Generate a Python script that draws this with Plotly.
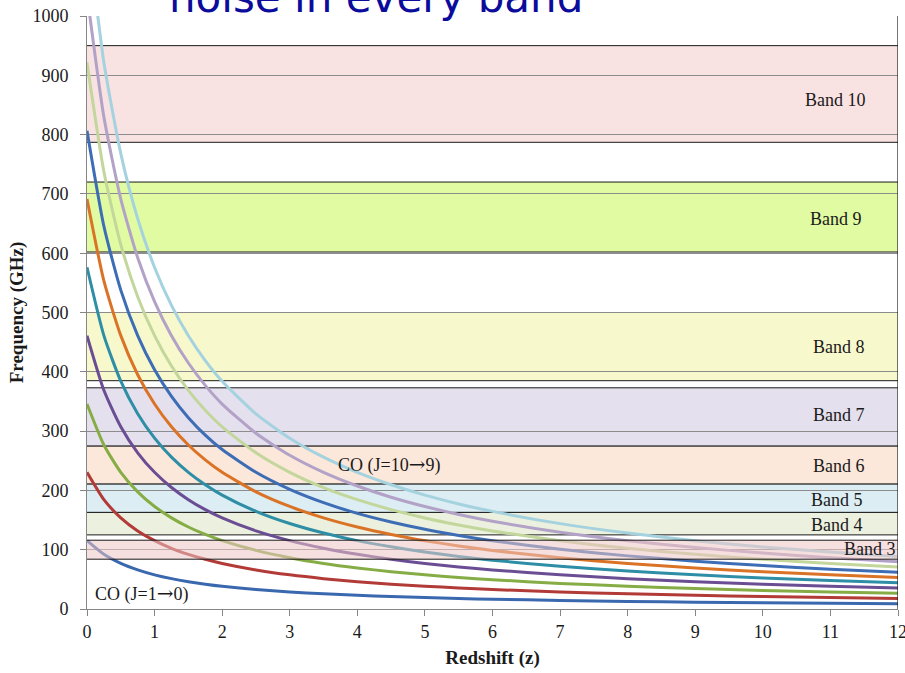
import plotly.graph_objects as go

# Redshift grid (z) and CO line frequencies (GHz)
z = [0, 0.25, 0.5, 0.75, 1, 1.25, 1.5, 1.75, 2, 2.5, 3, 3.5, 4, 4.5, 5, 5.5, 6, 7, 8, 9, 10, 11, 12]

co_1_0 = [115.3, 92.2, 76.9, 65.9, 57.6, 51.2, 46.1, 41.9, 38.4, 32.9, 28.8, 25.6, 23.1, 21.0, 19.2, 17.7, 16.5, 14.4, 12.8, 11.5, 10.5, 9.6, 8.9]
co_2_1 = [230.5, 184.4, 153.7, 131.7, 115.3, 102.4, 92.2, 83.8, 76.8, 65.9, 57.6, 51.2, 46.1, 41.9, 38.4, 35.5, 32.9, 28.8, 25.6, 23.1, 21.0, 19.2, 17.7]
co_3_2 = [345.8, 276.6, 230.5, 197.6, 172.9, 153.7, 138.3, 125.7, 115.3, 98.8, 86.5, 76.8, 69.2, 62.9, 57.6, 53.2, 49.4, 43.2, 38.4, 34.6, 31.4, 28.8, 26.6]
co_4_3 = [461.0, 368.8, 307.3, 263.4, 230.5, 204.9, 184.4, 167.6, 153.7, 131.7, 115.3, 102.4, 92.2, 83.8, 76.8, 70.9, 65.9, 57.6, 51.2, 46.1, 41.9, 38.4, 35.5]
co_5_4 = [576.3, 461.0, 384.2, 329.3, 288.1, 256.1, 230.5, 209.6, 192.1, 164.7, 144.1, 128.1, 115.3, 104.8, 96.0, 88.7, 82.3, 72.0, 64.0, 57.6, 52.4, 48.0, 44.3]
co_6_5 = [691.5, 553.2, 461.0, 395.1, 345.7, 307.3, 276.6, 251.5, 230.5, 197.6, 172.9, 153.7, 138.3, 125.7, 115.2, 106.4, 98.8, 86.4, 76.8, 69.2, 62.9, 57.6, 53.2]
co_7_6 = [806.7, 645.4, 537.8, 461.0, 403.3, 358.5, 322.7, 293.3, 268.9, 230.5, 201.7, 179.3, 161.3, 146.7, 134.4, 124.1, 115.2, 100.8, 89.6, 80.7, 73.3, 67.2, 62.1]
co_8_7 = [921.8, 737.4, 614.5, 526.7, 460.9, 409.7, 368.7, 335.2, 307.3, 263.4, 230.5, 204.8, 184.4, 167.6, 153.6, 141.8, 131.7, 115.2, 102.4, 92.2, 83.8, 76.8, 70.9]
co_9_8 = [1036.9, 829.5, 691.3, 592.5, 518.5, 460.8, 414.8, 377.1, 345.6, 296.3, 259.2, 230.4, 207.4, 188.5, 172.8, 159.5, 148.1, 129.6, 115.2, 103.7, 94.3, 86.4, 79.8]
co_10_9 = [1152.0, 921.6, 768.0, 658.3, 576.0, 512.0, 460.8, 418.9, 384.0, 329.1, 288.0, 256.0, 230.4, 209.5, 192.0, 177.2, 164.6, 144.0, 128.0, 115.2, 104.7, 96.0, 88.6]

series_names = ["CO (J=1→0)", "CO (J=2→1)", "CO (J=3→2)", "CO (J=4→3)", "CO (J=5→4)",
                "CO (J=6→5)", "CO (J=7→6)", "CO (J=8→7)", "CO (J=9→8)", "CO (J=10→9)"]
series_values = [co_1_0, co_2_1, co_3_2, co_4_3, co_5_4, co_6_5, co_7_6, co_8_7, co_9_8, co_10_9]
series_colors = ["#3A68AE", "#B23B38", "#86AD45", "#6B4D94", "#2E8EA6",
                 "#DB7327", "#3D6DB5", "#C3D69B", "#B3A2C7", "#A5D2DF"]

# ALMA bands (GHz)
band_names = ["Band 3", "Band 4", "Band 5", "Band 6", "Band 7", "Band 8", "Band 9", "Band 10"]
band_low = [84, 125, 163, 211, 275, 385, 602, 787]
band_high = [116, 163, 211, 275, 373, 500, 720, 950]
band_colors = ["rgba(236,196,196,0.55)", "#EBF1DE", "#DDEDF4", "#FCE8DA", "#E5E0EE", "#F8F8CD", "#E0FBA2", "#F9E2E2"]
band_label_x = [12.0, 11.1, 11.1, 11.12, 11.13, 11.13, 11.08, 11.07]
band_label_y = [101, 142, 184, 241, 327, 442, 658, 858]

x_ticks = list(range(0, 13))
y_ticks = list(range(0, 1001, 100))

ARROW = '<span style="font-family:DejaVu Serif;font-size:20px">→</span>'

fig = go.Figure()

for name, vals, col in zip(series_names, series_values, series_colors):
    fig.add_trace(go.Scatter(x=z, y=vals, mode="lines", name=name,
                             line=dict(color=col, width=3, shape="spline", smoothing=0.6)))

shapes = []
for i, (lo, hi, col) in enumerate(zip(band_low, band_high, band_colors)):
    shapes.append(dict(type="rect", xref="x", yref="y", x0=0, x1=12, y0=lo, y1=hi,
                       fillcolor=col, line=dict(width=0),
                       layer="above" if i == 0 else "below"))
    for yy in (lo, hi):
        shapes.append(dict(type="line", xref="x", yref="y", x0=0, x1=12, y0=yy, y1=yy,
                           line=dict(color="#1a1a1a", width=1), layer="above" if i == 0 else "below"))
shapes.append(dict(type="line", xref="x", yref="y", x0=12, x1=12, y0=0, y1=1000,
                   line=dict(color="#1a1a1a", width=1.2), layer="above"))

annotations = []
for i, (name, bx, by) in enumerate(zip(band_names, band_label_x, band_label_y)):
    annotations.append(dict(x=bx, y=by, xref="x", yref="y", text=name, showarrow=False,
                            xanchor="right" if i == 0 else "center",
                            font=dict(family="Liberation Serif", size=18, color="#1a1a1a")))
annotations.append(dict(x=4.47, y=245, xref="x", yref="y", text="CO (J=10" + ARROW + "9)", showarrow=False,
                        font=dict(family="Liberation Serif", size=18, color="#1a1a1a")))
annotations.append(dict(x=0.8, y=27, xref="x", yref="y", text="CO (J=1" + ARROW + "0)", showarrow=False,
                        font=dict(family="Liberation Serif", size=18, color="#1a1a1a")))
annotations.append(dict(x=0.356, y=0.9865, xref="paper", yref="paper", text="noise in every band",
                        showarrow=False, xanchor="center", yanchor="bottom",
                        font=dict(family="DejaVu Sans", size=42, color="#0B0B9C")))

fig.update_layout(
    width=905, height=673,
    margin=dict(l=87, r=7, t=16, b=64),
    paper_bgcolor="white", plot_bgcolor="white",
    showlegend=False,
    shapes=shapes,
    annotations=annotations,
    xaxis=dict(range=[0, 12], tickvals=x_ticks, ticks="outside", ticklen=6, tickcolor="#868686",
               showline=True, linecolor="#868686", linewidth=1, showgrid=False, zeroline=False,
               automargin=False, ticklabeloverflow="allow",
               tickfont=dict(family="Liberation Serif", size=18, color="#1a1a1a"),
               title=dict(text="<b>Redshift (z)</b>", standoff=10,
                          font=dict(family="Liberation Serif", size=19, color="#1a1a1a"))),
    yaxis=dict(range=[0, 1000], tickvals=y_ticks, ticks="outside", ticklen=6, tickcolor="#868686",
               showline=True, linecolor="#868686", linewidth=1, showgrid=True, gridcolor="#8C8C8C",
               gridwidth=1, zeroline=False, ticklabelstandoff=8, automargin=False,
               tickfont=dict(family="Liberation Serif", size=18, color="#1a1a1a"),
               title=dict(text="<b>Frequency (GHz)</b>", standoff=3,
                          font=dict(family="Liberation Serif", size=19, color="#1a1a1a"))),
)

fig.write_html("out.html", config={"displayModeBar": False},
               post_script="document.body.style.margin='0';")
